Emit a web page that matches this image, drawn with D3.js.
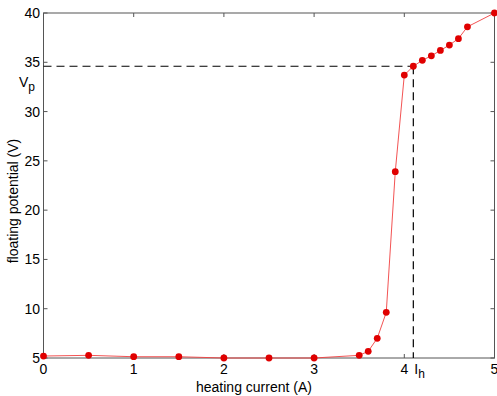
<!DOCTYPE html>
<html>
<head>
<meta charset="utf-8">
<script src="https://cdn.jsdelivr.net/npm/d3@7"></script>
<style>
  body { margin: 0; background: #fff; }
  text { font-family: "Liberation Sans", Arial, sans-serif; font-size: 14px; fill: #000; }
</style>
</head>
<body>
<svg width="497" height="396"></svg>
<script>
// heating current (A) vs floating potential (V)
var current = [0, 0.5, 1, 1.5, 2, 2.5, 3, 3.5, 3.6, 3.7, 3.8, 3.9, 4.0, 4.1, 4.2, 4.3, 4.4, 4.5, 4.6, 4.7, 5.0]
var potential = [5.2, 5.27, 5.13, 5.13, 5.0, 5.0, 5.0, 5.27, 5.68, 7.0, 9.63, 23.9, 33.7, 34.6, 35.2, 35.66, 36.2, 36.75, 37.4, 38.6, 40.0]
var xTicks = [0, 1, 2, 3, 4, 5]
var yTicks = [5, 10, 15, 20, 25, 30, 35, 40]
var Ih = 4.1, Vp = 34.6

var data = current.map(function(c, i){ return {x: c, y: potential[i]} })

var svg = d3.select("svg")
var mLeft = 43.5, mRight = 494.5, mTop = 13, mBottom = 358

var x = d3.scaleLinear().domain([0, 5]).range([mLeft, mRight])
var y = d3.scaleLinear().domain([5, 40]).range([mBottom, mTop])

var axisColor = "#555"

// box
svg.append("rect")
  .attr("x", mLeft).attr("y", mTop)
  .attr("width", mRight - mLeft).attr("height", mBottom - mTop)
  .attr("fill", "none").attr("stroke", axisColor).attr("stroke-width", 1)

// inward ticks on all four sides
var tl = 4
xTicks.forEach(function(t){
  svg.append("line").attr("x1", x(t)).attr("x2", x(t)).attr("y1", mBottom).attr("y2", mBottom - tl).attr("stroke", axisColor)
  svg.append("line").attr("x1", x(t)).attr("x2", x(t)).attr("y1", mTop).attr("y2", mTop + tl).attr("stroke", axisColor)
  svg.append("text").attr("x", x(t)).attr("y", 374).attr("text-anchor", "middle").text(t)
})
yTicks.forEach(function(t){
  svg.append("line").attr("x1", mLeft).attr("x2", mLeft + tl).attr("y1", y(t)).attr("y2", y(t)).attr("stroke", axisColor)
  svg.append("line").attr("x1", mRight).attr("x2", mRight - tl).attr("y1", y(t)).attr("y2", y(t)).attr("stroke", axisColor)
  svg.append("text").attr("x", 40).attr("y", y(t) + 5).attr("text-anchor", "end").text(t)
})

// dashed guide lines
svg.append("line")
  .attr("x1", x(0)).attr("x2", x(Ih)).attr("y1", y(Vp)).attr("y2", y(Vp))
  .attr("stroke", "#000").attr("stroke-width", 1.2).attr("stroke-dasharray", "8,5")
svg.append("line")
  .attr("x1", x(Ih)).attr("x2", x(Ih)).attr("y1", y(Vp)).attr("y2", mBottom)
  .attr("stroke", "#000").attr("stroke-width", 1.2).attr("stroke-dasharray", "8,5")

// data line + markers
var line = d3.line().x(function(d){ return x(d.x) }).y(function(d){ return y(d.y) })
svg.append("path").datum(data)
  .attr("d", line).attr("fill", "none").attr("stroke", "#f04040").attr("stroke-width", 0.9)

svg.selectAll("circle").data(data).enter().append("circle")
  .attr("cx", function(d){ return x(d.x) })
  .attr("cy", function(d){ return y(d.y) })
  .attr("r", 3.4)
  .style("fill", "#e00000")

// Vp and Ih labels
var vp = svg.append("text").attr("x", 19).attr("y", 87)
vp.append("tspan").text("V")
vp.append("tspan").attr("dy", 4).style("font-size", "12px").text("p")

var ih = svg.append("text").attr("x", x(Ih) + 1).attr("y", 374)
ih.append("tspan").text("I")
ih.append("tspan").attr("dy", 4).style("font-size", "12px").text("h")

// axis labels
svg.append("text").attr("x", 254).attr("y", 392).attr("text-anchor", "middle").text("heating current (A)")
svg.append("text").attr("transform", "translate(18,201) rotate(-90)").attr("text-anchor", "middle").text("floating potential (V)")
</script>
</body>
</html>
